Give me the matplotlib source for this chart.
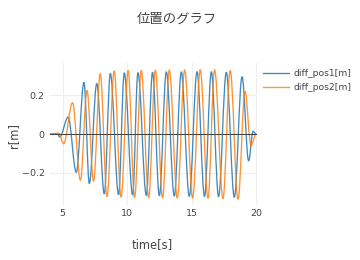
# plot.py
# 位置のグラフ : diff_pos1 / diff_pos2 against time, plotly-like look
# values are the turning points,
# joined by smooth curves (flat at each turning point)

import matplotlib
matplotlib.use("Agg")
import matplotlib.pyplot as plt
from matplotlib.path import Path
from matplotlib.patches import PathPatch
from matplotlib.lines import Line2D

# ─────────────────────────────────────────────
# DATA  (time [s], r [m]) at each turning point
# ─────────────────────────────────────────────
t_pos1 = [4.00, 4.60, 4.78, 5.43, 6.06, 6.66, 7.07, 7.65, 8.23, 8.70,
          9.34, 9.78, 10.43, 10.84, 11.49, 11.97, 12.50, 13.04, 13.66, 14.20,
          14.82, 15.42, 16.00, 16.53, 17.09, 17.69, 18.31, 18.91, 19.42, 19.76,
          20.00]
r_pos1 = [0.000, 0.000, -0.015, 0.087, -0.197, 0.266, -0.255, 0.260, -0.308, 0.312,
          -0.313, 0.315, -0.314, 0.316, -0.316, 0.318, -0.318, 0.320, -0.320, 0.320,
          -0.321, 0.321, -0.322, 0.321, -0.323, 0.318, -0.326, 0.295, -0.138, 0.014,
          0.000]

t_pos2 = [4.00, 4.70, 5.08, 5.77, 6.38, 6.89, 7.40, 7.92, 8.44, 9.00,
          9.53, 10.08, 10.58, 11.10, 11.67, 12.19, 12.75, 13.27, 13.89, 14.46,
          15.08, 15.67, 16.27, 16.78, 17.43, 17.99, 18.60, 19.14, 19.60, 20.00]
r_pos2 = [0.000, 0.004, -0.050, 0.161, -0.238, 0.224, -0.243, 0.311, -0.322, 0.325,
          -0.325, 0.327, -0.327, 0.328, -0.328, 0.329, -0.329, 0.330, -0.330, 0.330,
          -0.331, 0.331, -0.331, 0.331, -0.333, 0.327, -0.336, 0.220, -0.060, 0.000]

labels = ["diff_pos1[m]", "diff_pos2[m]"]
colors = ["#1f77b4", "#ff7f0e"]

x_ticks = [5, 10, 15, 20]
y_ticks = [-0.2, 0, 0.2]
y_tick_labels = ["\u22120.2", "0", "0.2"]


def smooth_path(ts, rs, k=0.36):
    """Bezier path through the turning points, horizontal tangent at each."""
    verts = [(ts[0], rs[0])]
    codes = [Path.MOVETO]
    for i in range(1, len(ts)):
        dt = ts[i] - ts[i - 1]
        verts += [(ts[i - 1] + k * dt, rs[i - 1]),
                  (ts[i] - k * dt, rs[i]),
                  (ts[i], rs[i])]
        codes += [Path.CURVE4] * 3
    return Path(verts, codes)


# ─────────────────────────────────────────────
# FIGURE  (360 x 260 px)
# ─────────────────────────────────────────────
W, H = 360, 260
fig = plt.figure(figsize=(W / 100, H / 100), dpi=100)

# plot area in pixels: x 50..256, y 63..205
left, right, top, bottom = 49.7, 256.5, 63, 205
ax = fig.add_axes([left / W, 1 - bottom / H, (right - left) / W, (bottom - top) / H])

TXT = "#444444"
GRID = "#eeeeee"

ax.set_xlim(4.0, 20.03)
ax.set_ylim(-0.366, 0.366)

# grid + zero line
ax.set_xticks(x_ticks)
ax.set_yticks(y_ticks)
ax.set_yticklabels(y_tick_labels)
ax.grid(True, color=GRID, linewidth=0.75, zorder=0)
ax.set_axisbelow(True)

handles = []
for ts, rs, c, lab in zip([t_pos1, t_pos2], [r_pos1, r_pos2], colors, labels):
    ax.add_patch(PathPatch(smooth_path(ts, rs), facecolor="none", edgecolor=c,
                           linewidth=0.95, alpha=0.85, zorder=2))
    handles.append(Line2D([], [], color=c, linewidth=0.95, alpha=0.85, label=lab))

ax.axhline(0, color=TXT, linewidth=0.75, zorder=3)

for s in ax.spines.values():
    s.set_visible(False)

ax.tick_params(axis="both", length=0, colors=TXT, labelsize=6.8)
ax.tick_params(axis="x", pad=3.2)
ax.tick_params(axis="y", pad=3.6)

# ─────────────────────────────────────────────
# TEXTS
# ─────────────────────────────────────────────
fig.text(176.7 / W, 1 - 18.3 / H, "位置のグラフ", ha="center", va="center",
         color=TXT, fontsize=9.6, family=["Noto Sans CJK JP", "DejaVu Sans"])
fig.text(152 / W, 1 - 245 / H, "time[s]", ha="center", va="center",
         color=TXT, fontsize=8.3)
fig.text(14 / W, 1 - 136 / H, "r[m]", ha="center", va="center",
         color=TXT, fontsize=8.3, rotation=90)

# legend to the right of the plot
leg = fig.legend(handles=handles, loc="upper left",
                 bbox_to_anchor=(263 / W, 1 - 69.5 / H),
                 frameon=False, fontsize=6.6, handlelength=2.8,
                 handletextpad=0.55, labelspacing=0.5,
                 borderpad=0, borderaxespad=0)
for txt in leg.get_texts():
    txt.set_color(TXT)

fig.savefig("out.png", dpi=100)
